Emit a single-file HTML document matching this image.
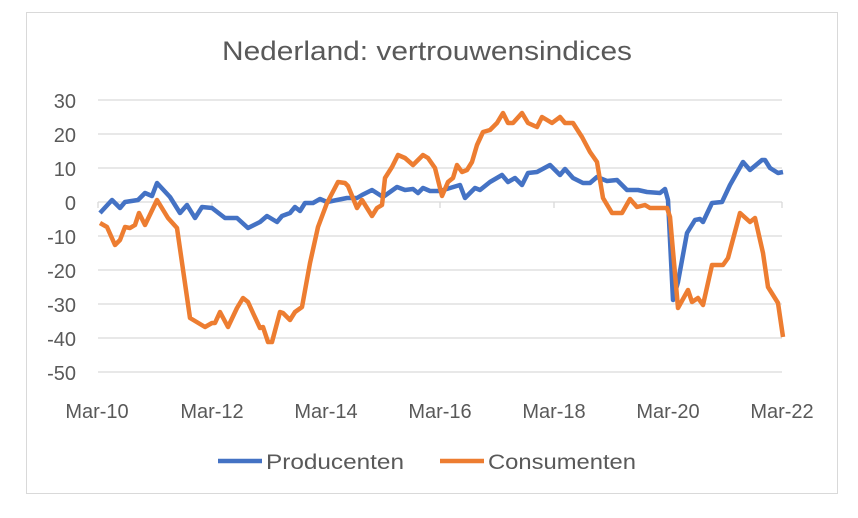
<!DOCTYPE html>
<html><head><meta charset="utf-8"><style>
body{margin:0;background:#fff;}
svg{display:block;font-family:"Liberation Sans",sans-serif;}
</style></head><body>
<svg width="858" height="518" viewBox="0 0 858 518">
<rect x="26.5" y="12.5" width="811" height="481" fill="#fff" stroke="#d9d9d9"/>
<text x="222" y="60" font-size="27" fill="#595959" textLength="410" lengthAdjust="spacingAndGlyphs">Nederland: vertrouwensindices</text>
<g stroke="#d9d9d9" stroke-width="1.3">
<line x1="98" x2="782" y1="100" y2="100"/><line x1="98" x2="782" y1="134" y2="134"/>
<line x1="98" x2="782" y1="168" y2="168"/><line x1="98" x2="782" y1="202" y2="202"/>
<line x1="98" x2="782" y1="236" y2="236"/><line x1="98" x2="782" y1="270" y2="270"/>
<line x1="98" x2="782" y1="304" y2="304"/><line x1="98" x2="782" y1="338" y2="338"/>
<line x1="98" x2="782" y1="372" y2="372"/>
<line x1="98" x2="98" y1="202" y2="208"/><line x1="212" x2="212" y1="202" y2="208"/>
<line x1="326" x2="326" y1="202" y2="208"/><line x1="440" x2="440" y1="202" y2="208"/>
<line x1="554" x2="554" y1="202" y2="208"/><line x1="668" x2="668" y1="202" y2="208"/>
<line x1="782" x2="782" y1="202" y2="208"/>
</g>
<g font-size="20" fill="#595959" text-anchor="end">
<text x="76" y="108">30</text><text x="76" y="142">20</text><text x="76" y="176">10</text>
<text x="76" y="210">0</text><text x="76" y="244">-10</text><text x="76" y="278">-20</text>
<text x="76" y="312">-30</text><text x="76" y="346">-40</text><text x="76" y="380">-50</text>
</g>
<g font-size="20" fill="#595959" text-anchor="middle">
<text x="97" y="418">Mar-10</text><text x="212" y="418">Mar-12</text><text x="326" y="418">Mar-14</text>
<text x="440" y="418">Mar-16</text><text x="554" y="418">Mar-18</text><text x="668" y="418">Mar-20</text>
<text x="782" y="418">Mar-22</text>
</g>
<polyline fill="none" stroke="#4472c4" stroke-width="4.5" stroke-linejoin="round" points="100,213 112,200 120,208 125,202 138,200 145,193 152,196 157,183 170,197 180,213 187,205 195,218 202,207 212,208 225,218 237,218 248,228 260,222 267,216 277,222 282,216 290,213 295,207 300,211 305,203 313,203 320,199 327,202 347,198 357,198 362,195 372,190 383,197 397,187 405,190 413,189 418,193 423,188 430,191 440,191 450,188 460,185 465,198 475,188 480,190 490,182 502,175 508,182 515,178 522,185 528,173 537,172 550,165 560,175 565,169 573,178 583,183 590,183 597,177 607,181 617,180 627,190 638,190 647,192 660,193 665,189 668,200 673,300 678,282 687,233 695,220 700,219 703,222 712,203 722,202 730,185 743,162 750,170 762,160 765,160 770,168 778,173 783,172"/>
<polyline fill="none" stroke="#ed7d31" stroke-width="4.5" stroke-linejoin="round" points="100,223 107,227 115,245 120,240 125,227 130,228 135,225 139,213 145,225 157,200 168,218 177,228 190,318 205,327 212,323 215,323 220,312 228,327 237,308 243,298 248,302 253,313 260,328 263,327 268,342 272,342 280,312 283,313 290,320 295,312 302,307 310,263 318,227 327,203 338,182 345,183 348,186 357,208 362,200 372,216 377,208 382,205 385,178 392,167 398,155 405,158 413,165 423,155 428,158 435,168 442,196 448,182 453,178 457,165 462,172 467,170 472,162 477,145 483,132 490,130 497,123 503,113 508,123 513,123 522,113 528,123 537,127 542,117 552,123 560,117 565,123 573,123 582,137 590,152 597,162 603,198 612,213 622,213 630,199 637,207 645,205 650,208 667,208 670,217 678,308 688,290 692,302 698,298 703,305 712,265 723,265 728,258 740,213 750,222 755,218 763,253 768,287 778,303 783,337"/>
<line x1="218" x2="262" y1="461" y2="461" stroke="#4472c4" stroke-width="4.5"/>
<text x="266" y="469" font-size="21" fill="#595959" textLength="138" lengthAdjust="spacingAndGlyphs">Producenten</text>
<line x1="440" x2="484" y1="461" y2="461" stroke="#ed7d31" stroke-width="4.5"/>
<text x="488" y="469" font-size="21" fill="#595959" textLength="148" lengthAdjust="spacingAndGlyphs">Consumenten</text>
</svg>
</body></html>
